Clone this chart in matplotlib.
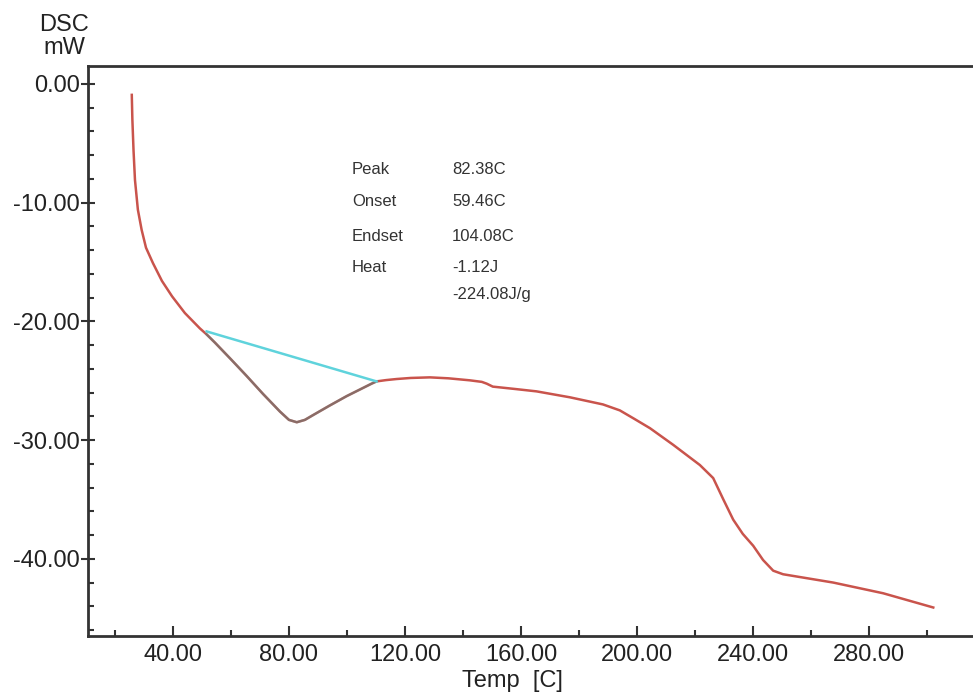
import matplotlib
matplotlib.use("Agg")
import matplotlib.pyplot as plt
from matplotlib.ticker import MultipleLocator, FormatStrFormatter

# DSC curve (Temp in C, DSC in mW)
temp = [25.8, 26.0, 26.4, 26.9, 27.9, 29.2, 30.7, 33.1, 36.2, 39.7, 44.1, 49.3,
        51.6, 54.5, 60.0, 65.4, 71.0, 76.9, 80.0, 82.7, 85.5, 88.3, 94.0, 99.9,
        104.0, 108.5, 110.2, 113.5, 117.1, 122.0, 128.6, 135.0, 142.4, 146.5,
        148.2, 150.3, 158.0, 165.4, 176.9, 188.3, 194.1, 199.0, 204.5, 212.5,
        221.7, 226.3, 229.8, 233.2, 236.5, 240.1, 243.5, 247.0, 250.4, 267.7,
        284.9, 302.2]
dsc = [-0.93, -3.0, -5.6, -8.1, -10.6, -12.3, -13.8, -15.1, -16.6, -17.9, -19.3, -20.6,
       -21.1, -21.8, -23.2, -24.6, -26.1, -27.6, -28.3, -28.5, -28.3, -27.9, -27.1, -26.3,
       -25.8, -25.25, -25.06, -24.95, -24.86, -24.77, -24.72, -24.8, -24.97, -25.1,
       -25.25, -25.5, -25.7, -25.9, -26.4, -27.0, -27.5, -28.2, -29.0, -30.4,
       -32.1, -33.2, -35.0, -36.7, -37.9, -38.9, -40.1, -41.0, -41.3, -42.0,
       -42.9, -44.1]

# baseline used for the peak integration
base_t = [51.6, 110.2]
base_y = [-20.85, -25.06]

labels = ["Peak", "Onset", "Endset", "Heat", ""]
values = ["82.38C", "59.46C", "104.08C", "-1.12J", "-224.08J/g"]

plt.rcParams['font.family'] = ['Liberation Sans', 'DejaVu Sans']

fig = plt.figure(figsize=(9.73, 6.98), dpi=100)
ax = fig.add_axes([88 / 973, 62 / 698, 1 - 88 / 973, (636 - 66) / 698])

ax.plot(temp, dsc, color="#c9544c", lw=1.8, zorder=3)

# peak part of the curve is tinted teal
pk_t = [t for t in temp if base_t[0] <= t <= base_t[1]]
pk_y = [y for t, y in zip(temp, dsc) if base_t[0] <= t <= base_t[1]]
ax.plot(pk_t, pk_y, color="#3f8a88", lw=1.8, alpha=0.45, zorder=4)
ax.plot(base_t, base_y, color="#5fd3dc", lw=1.8, zorder=5)

ax.set_xlim(10.7, 315.9)
ax.set_ylim(-46.5, 1.5)

ax.xaxis.set_major_locator(MultipleLocator(40))
ax.xaxis.set_minor_locator(MultipleLocator(20))
ax.yaxis.set_major_locator(MultipleLocator(10))
ax.yaxis.set_minor_locator(MultipleLocator(2))
ax.xaxis.set_major_formatter(FormatStrFormatter("%.2f"))
ax.yaxis.set_major_formatter(FormatStrFormatter("%.2f"))

ax.tick_params(axis="x", which="major", direction="in", length=7, width=1.5,
               labelsize=17, pad=6, colors="#333333", labelcolor="#222222")
ax.tick_params(axis="x", which="minor", direction="in", length=4, width=1.5,
               colors="#333333")
ax.tick_params(axis="y", which="major", direction="inout", length=10, width=1.5,
               labelsize=17, pad=1, colors="#333333", labelcolor="#222222")
ax.tick_params(axis="y", which="minor", direction="in", length=4, width=1.5,
               colors="#333333")

for side in ["left", "top", "bottom"]:
    ax.spines[side].set_linewidth(2)
    ax.spines[side].set_color("#333333")
ax.spines["right"].set_visible(False)

ax.set_xlabel("Temp  [C]", fontsize=17, color="#222222", labelpad=0)
ax.xaxis.set_label_coords((512 - 88) / (973 - 88), -0.06)

fig.text(64 / 973, 1 - 25 / 698, "DSC", fontsize=17, ha="center", va="center",
         color="#222222")
fig.text(64 / 973, 1 - 48 / 698, "mW", fontsize=17, ha="center", va="center",
         color="#222222")

row_y = [-7.24, -9.93, -12.88, -15.49, -17.76]
for lab, val, yy in zip(labels, values, row_y):
    ax.text(101.7, yy, lab, fontsize=12, va="center", color="#333333")
    ax.text(136.2, yy, val, fontsize=12, va="center", color="#333333")

fig.savefig("out.png", dpi=100)
